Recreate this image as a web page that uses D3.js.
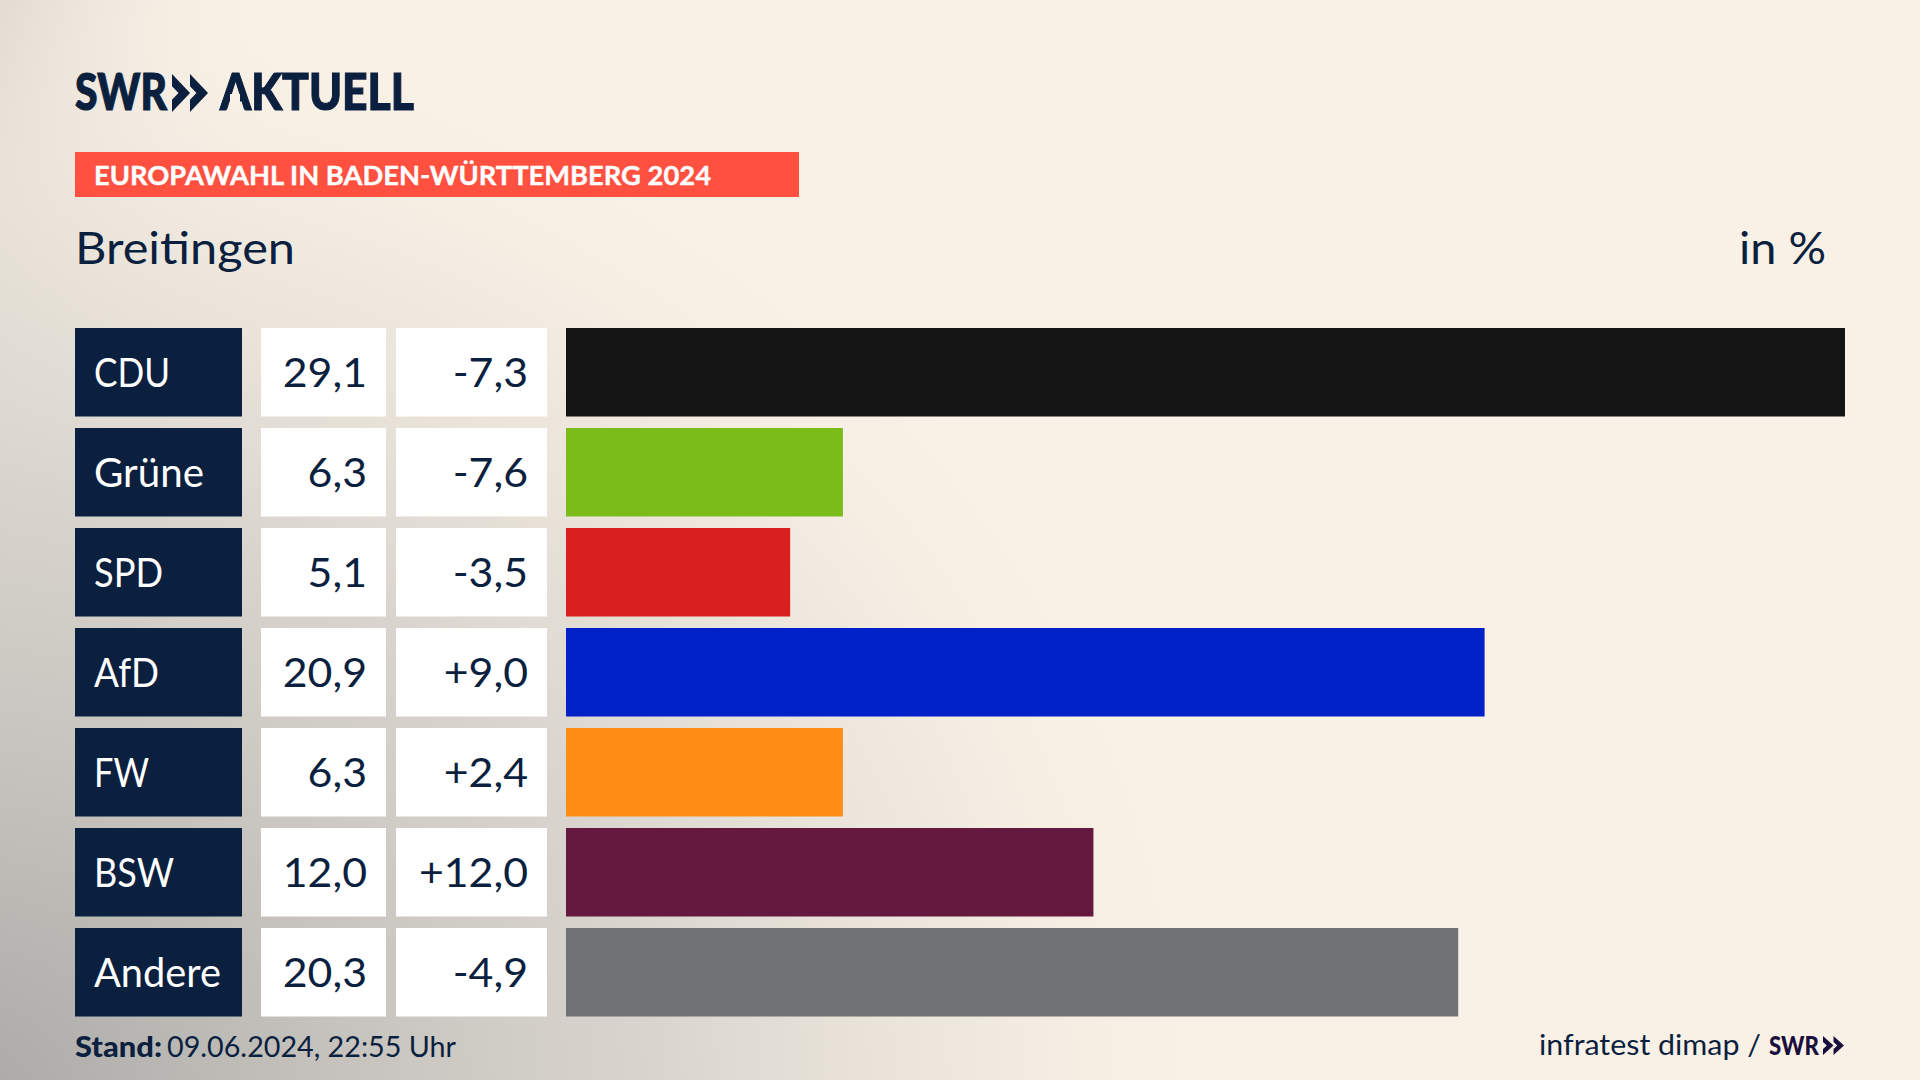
<!DOCTYPE html>
<html>
<head>
<meta charset="utf-8">
<title>Europawahl Breitingen</title>
<script src="https://cdn.jsdelivr.net/npm/d3@7"></script>
<style>
  html, body { margin: 0; padding: 0; background: #faf1e6; overflow: hidden; }
  svg { display: block; }
  text { font-family: Lato, "Noto Sans", sans-serif; }
</style>
</head>
<body>
<svg width="1920" height="1080"></svg>
<script>
var parties = ["CDU", "Grüne", "SPD", "AfD", "FW", "BSW", "Andere"];
var shares = [29.1, 6.3, 5.1, 20.9, 6.3, 12.0, 20.3];
var changes = [-7.3, -7.6, -3.5, 9.0, 2.4, 12.0, -4.9];
var barColors = ["#141414", "#7abd1a", "#d9201e", "#0021c8", "#ff8c14", "#66193f", "#717274"];

var navy = "#0b1f3f";
var svg = d3.select("svg");

// background: warm paper, grey haze from the lower left corner
var defs = svg.append("defs");
var haze = defs.append("radialGradient")
  .attr("id", "haze")
  .attr("gradientUnits", "userSpaceOnUse")
  .attr("cx", 0).attr("cy", 0).attr("r", 1)
  .attr("gradientTransform", "translate(-40,1100) scale(1280,1120)");
[[0, "#aaa9a6", 1], [0.3, "#c6c3be", 1], [0.55, "#d8d4cd", 0.95], [0.8, "#ebe5db", 0.7], [1, "#faf1e6", 0]].forEach(function(s) {
  haze.append("stop").attr("offset", s[0]).attr("stop-color", s[1]).attr("stop-opacity", s[2]);
});
var edge = defs.append("linearGradient").attr("id", "edge");
edge.append("stop").attr("offset", 0).attr("stop-color", "#d9d4cc").attr("stop-opacity", 0.8);
edge.append("stop").attr("offset", 1).attr("stop-color", "#faf1e6").attr("stop-opacity", 0);

svg.append("rect").attr("width", 1920).attr("height", 1080).attr("fill", "#faf1e6");
svg.append("rect").attr("width", 280).attr("height", 1080).attr("fill", "url(#edge)");
svg.append("rect").attr("width", 1920).attr("height", 1080).attr("fill", "url(#haze)");

// text squeezed to the measured width, the original face is narrower
function label(x, y, str, size, width, color, weight, anchor) {
  var t = svg.append("text")
    .attr("x", x).attr("y", y)
    .attr("font-size", size)
    .attr("fill", color)
    .attr("font-weight", weight || 400)
    .attr("text-anchor", anchor || "start")
    .text(str);
  if (width) t.attr("textLength", width).attr("lengthAdjust", "spacingAndGlyphs");
  return t;
}

function chevrons(x, y, w, h, color) {
  var cw = w / 2, mid = y + h / 2;
  [0, cw].forEach(function(dx) {
    var p = d3.path();
    p.moveTo(x + dx, y);
    p.lineTo(x + dx + cw, mid);
    p.lineTo(x + dx, y + h);
    p.lineTo(x + dx, y + h * 0.68);
    p.lineTo(x + dx + cw * 0.36, mid);
    p.lineTo(x + dx, y + h * 0.32);
    p.closePath();
    svg.append("path").attr("d", p.toString()).attr("fill", color);
  });
}

// header, logo letters get a thin outline for the heavier cut
label(75, 110, "SWR", 52, 92, navy, 900).attr("stroke", navy).attr("stroke-width", 1.2);
chevrons(172, 74, 36, 38, navy);
label(220, 110, "AKTUELL", 52, 194, navy, 900).attr("stroke", navy).attr("stroke-width", 1.2);
// the logo A has no crossbar
svg.append("rect").attr("x", 230).attr("y", 94).attr("width", 10).attr("height", 9).attr("fill", "#faf1e6");

svg.append("rect").attr("x", 75).attr("y", 152).attr("width", 724).attr("height", 45).attr("fill", "#ff5040");
label(94, 185, "EUROPAWAHL IN BADEN-WÜRTTEMBERG 2024", 27, 617, "#fff", 700).attr("stroke", "#fff").attr("stroke-width", 0.4);

label(75, 264, "Breitingen", 45, 220, navy);
label(1826, 264, "in %", 45, 87, navy, 400, "end");

// scales
var y = d3.scaleBand().domain(parties).range([328, 1016.5]).paddingInner(0.115);
var x = d3.scaleLinear().domain([0, d3.max(shares)]).range([566, 1845]);
var color = d3.scaleOrdinal().domain(parties).range(barColors);

var fmt = d3.format(".1f");
function comma(v) { return fmt(v).replace(".", ",").replace("\u2212", "-"); }
function signed(v) { return (v > 0 ? "+" : "") + comma(v); }

var rows = svg.selectAll("g.row")
  .data(parties.map(function(p, i) { return { party: p, share: shares[i], change: changes[i] }; }))
  .enter().append("g")
  .attr("class", "row")
  .attr("transform", function(d) { return "translate(0," + y(d.party) + ")"; });

rows.append("rect").attr("x", 75).attr("width", 167).attr("height", y.bandwidth()).attr("fill", navy);
rows.append("rect").attr("x", 261).attr("width", 125).attr("height", y.bandwidth()).attr("fill", "#fff");
rows.append("rect").attr("x", 396).attr("width", 151).attr("height", y.bandwidth()).attr("fill", "#fff");
rows.append("rect")
  .attr("x", x(0))
  .attr("width", function(d) { return x(d.share) - x(0); })
  .attr("height", y.bandwidth())
  .attr("fill", function(d) { return color(d.party); });

// party names: caps run narrower in the original face
var nameWidths = [76, 110, 69, 65, 55, 80, 127];
rows.append("text").attr("x", 94).attr("y", 59).attr("font-size", 40).attr("fill", "#fff")
  .attr("textLength", function(d, i) { return nameWidths[i]; })
  .attr("lengthAdjust", "spacingAndGlyphs")
  .text(function(d) { return d.party; });

function stretch(sel, f) {
  sel.attr("textLength", function() { return this.getComputedTextLength() * f; })
    .attr("lengthAdjust", "spacingAndGlyphs");
}
rows.append("text").attr("x", 367).attr("y", 59).attr("font-size", 40).attr("fill", navy)
  .attr("text-anchor", "end").text(function(d) { return comma(d.share); })
  .call(stretch, 1.07);
rows.append("text").attr("x", 528).attr("y", 59).attr("font-size", 40).attr("fill", navy)
  .attr("text-anchor", "end").text(function(d) { return signed(d.change); })
  .call(stretch, 1.07);

// footer
label(75, 1057, "Stand:", 28, 87, navy, 900);
label(167, 1057, "09.06.2024, 22:55 Uhr", 28, 289, navy);
label(1539, 1055, "infratest dimap /", 29, 222, navy);
label(1769, 1055, "SWR", 27, 50, "#1a0f3c", 900);
chevrons(1823, 1036, 21, 19, "#1a0f3c");
</script>
</body>
</html>
